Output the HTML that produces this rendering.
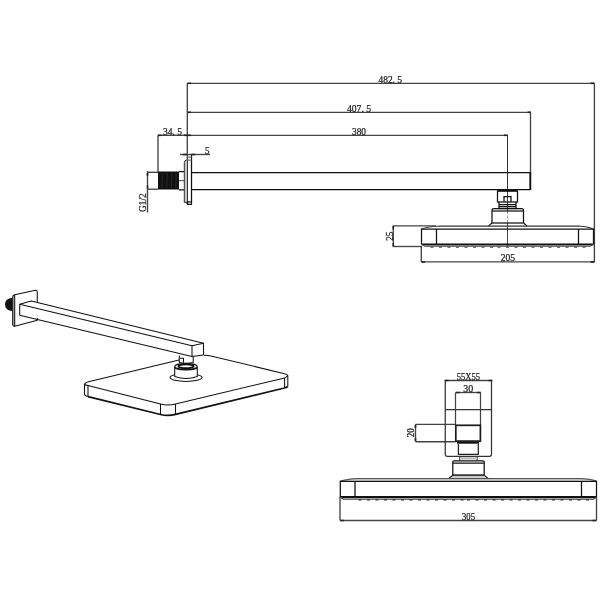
<!DOCTYPE html>
<html><head><meta charset="utf-8">
<style>
html,body{margin:0;padding:0;background:#fff;width:600px;height:600px;overflow:hidden}
svg{display:block;filter:grayscale(1)}
text{font-family:"Liberation Serif",serif;font-size:10.5px;fill:#222;stroke:#222;stroke-width:0.25px}
</style></head>
<body>
<svg width="600" height="600" viewBox="0 0 600 600">
<rect width="600" height="600" fill="#fff"/>
<g>

<!-- ============ TOP VIEW: dimension lines ============ -->
<g stroke="#444" stroke-width="1.35" fill="none">
  <!-- 482.5 -->
  <path d="M187.5 83.3 H594.4"/>
  <path d="M594.4 83.3 V262"/>
  <path d="M187.3 83.3 V204"/>
  <!-- 407.5 -->
  <path d="M187.5 112.3 H531"/>
  <path d="M530.5 112.3 V172"/>
  <!-- 380 -->
  <path d="M187.5 135.3 H507.5"/>
  <!-- 34.5 -->
  <path d="M158 135.3 H187.5"/>
  <path d="M158 135.3 V172"/>
  <!-- 5 -->
  <path d="M180 154.5 H210"/>
  <!-- G1/2 -->
  <path d="M147.5 171 V212.5"/>
  <path d="M147.5 172.3 H158"/>
  <path d="M147.5 189.2 H158"/>
  <!-- 25 -->
  <path d="M393.3 225.5 V246.7"/>
  <path d="M393.3 225.8 H436"/>
  <path d="M393.3 246.5 H421"/>
  <!-- 205 -->
  <path d="M421.3 246 V262"/>
  <path d="M421.3 261.8 H594.4"/>
</g>
<!-- center line -->
<path d="M507.5 135 V190" stroke="#333" stroke-width="1" fill="none"/>
<path d="M507.5 190 V211 M507.5 223 V247" stroke="#333" stroke-width="0.9" fill="none"/><path d="M507.5 211 V223" stroke="#999" stroke-width="0.9" stroke-dasharray="3 1.5" fill="none"/>

<!-- arrowheads (dark ticks) -->
<g stroke="#222" stroke-width="1.6" fill="none">
  <path d="M187.5 83.3 H191"/><path d="M590.5 83.3 H594.4"/>
  <path d="M187.5 112.3 H191"/><path d="M527.5 112.3 H531"/>
  <path d="M187.5 135.3 H191"/><path d="M504 135.3 H507.5"/>
  <path d="M158 135.3 H161.5"/><path d="M184 135.3 H187.5"/>
  <path d="M183 154.5 H187"/><path d="M191.5 154.5 H195"/>
  <path d="M147.5 173 V176"/><path d="M147.5 185.5 V188.5"/>
  <path d="M393.3 226 V229.5"/><path d="M393.3 243 V246.5"/>
  <path d="M421.5 262 H425"/><path d="M590.5 262 H594.4"/>
</g>

<!-- texts -->
<text x="378.5" y="83" textLength="23.5" lengthAdjust="spacingAndGlyphs">482. 5</text>
<text x="347" y="111.5" textLength="24" lengthAdjust="spacingAndGlyphs">407. 5</text>
<text x="352" y="134.5" textLength="14" lengthAdjust="spacingAndGlyphs">380</text>
<text x="163" y="134.5" textLength="19" lengthAdjust="spacingAndGlyphs">34. 5</text>
<text x="205" y="153.5" textLength="4.5" lengthAdjust="spacingAndGlyphs">5</text>
<text x="500.7" y="261.3" textLength="14.3" lengthAdjust="spacingAndGlyphs">205</text>
<text transform="translate(146,212) rotate(-90)" textLength="18.7" lengthAdjust="spacingAndGlyphs">G1/2</text>
<text transform="translate(392.8,240.8) rotate(-90)" textLength="9.3" lengthAdjust="spacingAndGlyphs">25</text>

<!-- ============ TOP VIEW: object ============ -->
<g stroke="#111" stroke-width="1.25" fill="none">
  <!-- thread -->
  <rect x="158" y="171.5" width="21" height="18" fill="#111" stroke="none"/>
  <path d="M162.5 173 L161.8 188 M167.3 173 L166.6 188 M172 173 L171.3 188 M176.2 173 L175.7 188" stroke="#2c2c2c" stroke-width="0.8"/>
  <!-- nut -->
  <path d="M179 171.5 H184.5 M179 189.8 H184.5" /><path d="M179 180.6 H184.5" stroke="#666"/>
  <!-- plate -->
  <path d="M184.3 202.5 V162.5 Q184.3 160.2 186.8 160 H187.5 V202.5 Z" fill="#c4c4c4" stroke="#333" stroke-width="1"/>
  <path d="M191.5 154.5 V204.3 Q189.5 204.6 187.5 204.3 V201.5 M187.5 201.8 H191.5"/>
  <path d="M187.5 157 H191.5 M187.5 160 H191.5" stroke="#777"/>
  <!-- arm -->
  <path d="M191.5 172.5 H530.5 M530.5 189.5 H191.5"/><path d="M530.3 172 V190" stroke-width="1.9"/>
  <!-- connector -->
  <path d="M498 190.5 H517" stroke-width="2"/>
  <rect x="497.5" y="191" width="20" height="11"/>
  <path d="M504 202 V196.5 H511 V202"/>
  <path d="M499 202 V208.5 M516 202 V208.5 M499 204.5 H516 M499 206.5 H516"/>
  <path d="M498 208.5 H517"/>
  <!-- dome -->
  <path d="M492 223 V210 Q492 208.5 494 208.5 H521.5 Q523.5 208.5 523.5 210 V223"/>
  <path d="M492 211 H523.5"/>
  <path d="M492 223 H523.5"/>
  <path d="M492 223 L488.5 225.9 M523.5 223 L527 225.9" stroke-width="1.1"/>

  <!-- head -->
  <path d="M421.5 244.3 V229 H593.5 V244.3"/>
  <path d="M421.5 229 Q428 226.5 440 226 H578 Q586 226.2 593.5 228.8" stroke="#333"/>
  <path d="M436.5 229 V244.3 M578.5 229 V244.3"/>
  <path d="M421.5 244.3 H593.5" stroke-width="1.8"/>
  <path d="M421.5 244.3 L425 246.2 H590 L593.5 244.3" stroke="#444"/>
</g>
<!-- nozzle bumps -->
<g fill="#555">
  <rect x="430.5" y="246.5" width="3" height="1.3"/>
  <rect x="439" y="246.5" width="3" height="1.3"/>
  <rect x="447.5" y="246.5" width="3" height="1.3"/>
  <rect x="456" y="246.5" width="3" height="1.3"/>
  <rect x="464.5" y="246.5" width="3" height="1.3"/>
  <rect x="473" y="246.5" width="3" height="1.3"/>
  <rect x="481.5" y="246.5" width="3" height="1.3"/>
  <rect x="490" y="246.5" width="3" height="1.3"/>
  <rect x="497.5" y="246.5" width="3" height="1.3"/>
  <rect x="506" y="246.5" width="3" height="1.3"/>
  <rect x="514.5" y="246.5" width="3" height="1.3"/>
  <rect x="523" y="246.5" width="3" height="1.3"/>
  <rect x="531.5" y="246.5" width="3" height="1.3"/>
  <rect x="540" y="246.5" width="3" height="1.3"/>
  <rect x="548.5" y="246.5" width="3" height="1.3"/>
  <rect x="557" y="246.5" width="3" height="1.3"/>
  <rect x="565.5" y="246.5" width="3" height="1.3"/>
  <rect x="574" y="246.5" width="3" height="1.3"/>
  <rect x="582.5" y="246.5" width="3" height="1.3"/>
</g>

<!-- ============ ISO VIEW ============ -->
<g stroke="#111" stroke-width="1.05" fill="none" stroke-linejoin="round">
  <!-- black disc -->
  <path d="M12.5 297.8 Q5 298.5 5 304.4 Q5 310.5 12.5 311 Z" fill="#111" stroke="none"/>
  <!-- wall plate -->
  <path d="M12.7 325 V297 Q12.7 295.5 14.7 294.8 V326.3 Q13 326.5 12.7 325 Z" fill="#bbb" stroke="none"/>
  <path d="M12.7 325 V297 Q12.7 295.5 14.7 294.8 L35.5 290.3 Q37.3 290.3 37.3 292 V302.3"/>
  <path d="M14.7 295 V326.3 L37.3 320.2 V318"/>
  <path d="M12.7 325 Q13 326.5 15 326.3"/>
  <!-- arm -->
  <path d="M19.7 315.3 V304.3 L31.3 301.1 L203.5 343.2 V355"/>
  <path d="M19.7 304.3 L192 345.7 L203.5 343.2"/>
  <path d="M192 345.7 V356.4 L203.5 354.9"/>
  <path d="M19.7 315.3 L192 356.4"/>
  <!-- head top face -->
  <path d="M179 360 L88.5 381.8 Q84.5 383 84.5 385 V394.5 Q85 396 88 396.5"/>
  <path d="M84.5 384.5 Q86 385.3 88 385.5 L160.5 404 Q168 405.8 175.5 404 L284.6 377.9 Q286.5 377 287.8 375.5"/>
  <path d="M88 385.5 V396.5 M287.8 386.5 V375.5 Q287 374 284.6 373.7 L211 356 Q207 355 204 355.2"/>
  <path d="M88 396.6 L160.5 414.5 Q168 416.4 175.5 414.4 L284.5 388 Q286.5 387.6 287.8 386.5" stroke-width="1.7"/>
  <path d="M160.5 404 V414.3 M175.5 404 V414.2 M284.6 377.9 V387.9"/>
  <!-- connector -->
  <path d="M179.3 355.5 V362.5 Q186 364 193.2 362.5 V356.5"/>
  <path d="M179.8 358.3 H183.5 V362.8"/>
  <ellipse cx="186" cy="377.5" rx="16" ry="3.9" fill="#fff"/>
  <path d="M174.7 367 V376.5 Q186 380.5 197.3 376.5 V367" fill="#fff"/>
  <ellipse cx="186" cy="366.5" rx="11.3" ry="2.9" fill="#fff"/>
  <ellipse cx="186" cy="366.3" rx="7.6" ry="1.9" stroke-width="1.8"/>
  <path d="M175 368.5 Q186 371.5 197 368.5"/>
</g>

<!-- ============ BOTTOM RIGHT VIEW ============ -->
<g stroke="#444" stroke-width="1.35" fill="none">
  <path d="M444.5 380.5 H492.5"/>
  <path d="M455.5 392.5 H481"/>
  <path d="M415.5 424.3 V441.7"/>
  <path d="M415.5 424.4 H455.5 M415.5 441.7 H455.5"/>
  <path d="M340 497 V520.5 M596.5 497 V520.5"/>
  <path d="M340 520.5 H596.5"/>
</g>
<g stroke="#222" stroke-width="1.6" fill="none">
  <path d="M445 380.5 H448.5 M488.5 380.5 H492"/>
  <path d="M456 392.5 H459.5 M477 392.5 H480.5"/>
  <path d="M415.5 425 V428 M415.5 438 V441"/>
  <path d="M340.5 520.5 H344 M592.5 520.5 H596"/>
</g>
<text x="456.7" y="379.5" textLength="23.3" lengthAdjust="spacingAndGlyphs">55X55</text>
<text x="463.3" y="391.7" textLength="10" lengthAdjust="spacingAndGlyphs">30</text>
<text x="462" y="520" textLength="13" lengthAdjust="spacingAndGlyphs">305</text>
<text transform="translate(414.3,437.3) rotate(-90)" textLength="9" lengthAdjust="spacingAndGlyphs">20</text>

<g stroke="#111" stroke-width="1.25" fill="none">
  <!-- plate -->
  <path d="M445.25 380.5 V454.5 Q445.25 456.25 447 456.25 H489.5 Q491.5 456.25 491.5 454.3 V380.5" stroke="#333"/>
  <path d="M445.25 409.5 H491.5" stroke="#333"/>
  <path d="M455.5 392.5 V425.3 M480.5 392.5 V425.3" stroke="#444"/>
  <!-- arm section -->
  <rect x="455.8" y="425.3" width="24.6" height="15.8" stroke-width="1.7" stroke="#1a1a1a"/>
  <path d="M457 442.7 H479" stroke-width="2"/>
  <path d="M458.4 444 V454.4 H478.3 V444" stroke="#222"/>
  <!-- collar -->
  <path d="M459.7 456.2 V460.8 M477 456.2 V460.8" stroke="#333"/>
  <rect x="459.7" y="457.3" width="17.3" height="2.2" fill="#bbb" stroke="none"/>
  <path d="M452.8 475 V461.8 Q452.8 460.8 454 460.8 H483 Q484.2 460.8 484.2 461.8 V475"/>
  <path d="M452.8 463.2 H484.2"/>
  <path d="M452.8 475 H484.2"/>
  <path d="M452.8 475.2 L448.8 478.5 H488.2 L484.2 475.2 Z" fill="#ccc" stroke-width="1.1"/>
  <!-- head -->
  <path d="M340 481.3 Q346 479.2 358 478.7 H580 Q590 478.9 596.5 481.1" stroke="#555" fill="#e4e4e4"/>
  <path d="M340.3 497 V481.3 H596.5 V497"/>
  <path d="M355 481.3 V497 M581.5 481.3 V497"/>
  <path d="M340 497 H596.5" stroke-width="1.8"/>
  <path d="M340 497 L343.5 499 H593.5 L596.5 497" stroke="#444"/>
</g>
<g fill="#333">
  <rect x="358.5" y="499.2" width="3" height="1.3"/>
  <rect x="367" y="499.2" width="3" height="1.3"/>
  <rect x="375.5" y="499.2" width="3" height="1.3"/>
  <rect x="384" y="499.2" width="3" height="1.3"/>
  <rect x="392.5" y="499.2" width="3" height="1.3"/>
  <rect x="401" y="499.2" width="3" height="1.3"/>
  <rect x="409.5" y="499.2" width="3" height="1.3"/>
  <rect x="418" y="499.2" width="3" height="1.3"/>
  <rect x="426.5" y="499.2" width="3" height="1.3"/>
  <rect x="435" y="499.2" width="3" height="1.3"/>
  <rect x="443.5" y="499.2" width="3" height="1.3"/>
  <rect x="452" y="499.2" width="3" height="1.3"/>
  <rect x="460.5" y="499.2" width="3" height="1.3"/>
  <rect x="467" y="499.2" width="3" height="1.3"/>
  <rect x="475.5" y="499.2" width="3" height="1.3"/>
  <rect x="484" y="499.2" width="3" height="1.3"/>
  <rect x="492.5" y="499.2" width="3" height="1.3"/>
  <rect x="501" y="499.2" width="3" height="1.3"/>
  <rect x="509.5" y="499.2" width="3" height="1.3"/>
  <rect x="518" y="499.2" width="3" height="1.3"/>
  <rect x="526.5" y="499.2" width="3" height="1.3"/>
  <rect x="535" y="499.2" width="3" height="1.3"/>
  <rect x="543.5" y="499.2" width="3" height="1.3"/>
  <rect x="552" y="499.2" width="3" height="1.3"/>
  <rect x="560.5" y="499.2" width="3" height="1.3"/>
  <rect x="569" y="499.2" width="3" height="1.3"/>
  <rect x="577.5" y="499.2" width="3" height="1.3"/>
  <rect x="586" y="499.2" width="3" height="1.3"/>
</g>
</g>
</svg>
</body></html>
